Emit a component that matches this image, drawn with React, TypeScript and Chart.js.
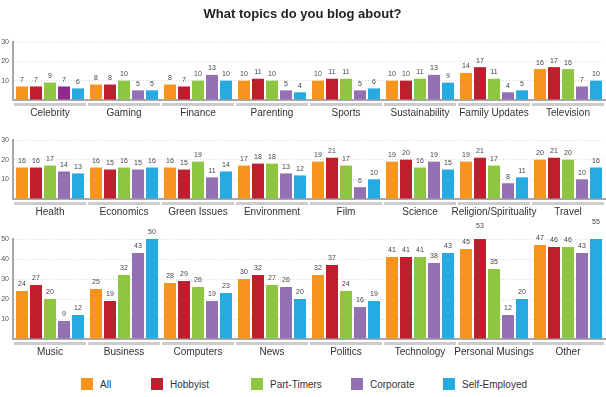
import React, { useEffect, useRef } from "react";
import { Chart, registerables } from "chart.js";

Chart.register(...registerables);

const FONT = "'Liberation Sans', Arial, Helvetica, sans-serif";
Chart.defaults.font.family = FONT;

const chartTitle = "What topics do you blog about?";
const seriesNames = ["All", "Hobbyist", "Part-Timers", "Corporate", "Self-Employed"];
const seriesColors = ["#F7941D", "#BF1E2E", "#8DC63F", "#9471B5", "#25AAE1"];
const highlightColor = "#8E2A8C";

// Row 1
const row1Categories = ["Celebrity", "Gaming", "Finance", "Parenting", "Sports", "Sustainability", "Family Updates", "Television"];
const row1All = [7, 8, 8, 10, 10, 10, 14, 16];
const row1Hobbyist = [7, 8, 7, 11, 11, 10, 17, 17];
const row1PartTimers = [9, 10, 10, 10, 11, 11, 11, 16];
const row1Corporate = [7, 5, 13, 5, 5, 13, 4, 7];
const row1SelfEmployed = [6, 5, 10, 4, 6, 9, 5, 10];

// Row 2
const row2Categories = ["Health", "Economics", "Green Issues", "Environment", "Film", "Science", "Religion/Spirituality", "Travel"];
const row2All = [16, 16, 16, 17, 19, 19, 19, 20];
const row2Hobbyist = [16, 15, 15, 18, 21, 20, 21, 21];
const row2PartTimers = [17, 16, 19, 18, 17, 16, 17, 20];
const row2Corporate = [14, 15, 11, 13, 6, 19, 8, 10];
const row2SelfEmployed = [13, 16, 14, 12, 10, 15, 11, 16];

// Row 3
const row3Categories = ["Music", "Business", "Computers", "News", "Politics", "Technology", "Personal Musings", "Other"];
const row3All = [24, 25, 28, 30, 32, 41, 45, 47];
const row3Hobbyist = [27, 19, 29, 32, 37, 41, 53, 46];
const row3PartTimers = [20, 32, 26, 27, 24, 41, 35, 46];
const row3Corporate = [9, 43, 19, 26, 16, 38, 12, 43];
const row3SelfEmployed = [12, 50, 23, 20, 19, 43, 20, 55];

const row1Max = 30;
const row2Max = 30;
const row3Max = 50;

const underlinePlugin = {
  id: "groupUnderline",
  afterDraw(chart: any) {
    const xs = chart.scales.x;
    const area = chart.chartArea;
    const n = chart.data.labels.length;
    const half = (area.right - area.left) / n / 2 - 1;
    const ctx = chart.ctx;
    ctx.save();
    ctx.fillStyle = "#cccccc";
    for (let i = 0; i < n; i++) {
      const cx = xs.getPixelForValue(i);
      ctx.fillRect(cx - half, area.bottom + 3, half * 2, 3);
    }
    ctx.restore();
  },
};

const valueLabelPlugin = {
  id: "valueLabels",
  afterDatasetsDraw(chart: any) {
    const ctx = chart.ctx;
    ctx.save();
    ctx.font = `7px ${FONT}`;
    ctx.fillStyle = "#444";
    ctx.textAlign = "center";
    ctx.textBaseline = "bottom";
    chart.data.datasets.forEach((ds: any, i: number) => {
      const meta = chart.getDatasetMeta(i);
      meta.data.forEach((bar: any, j: number) => {
        ctx.fillText(String(ds.data[j]), bar.x, bar.y - 3);
      });
    });
    ctx.restore();
  },
};

type RowProps = {
  top: number;
  height: number;
  areaTop: number;
  areaBottom: number;
  labels: string[];
  series: number[][];
  yMax: number;
  title?: string;
  corporateColors?: string[];
};

function BarRow({ top, height, areaTop, areaBottom, labels, series, yMax, title, corporateColors }: RowProps) {
  const ref = useRef<HTMLCanvasElement>(null);
  useEffect(() => {
    const chart = new Chart(ref.current as HTMLCanvasElement, {
      type: "bar",
      data: {
        labels,
        datasets: series.map((d, i) => ({
          label: seriesNames[i],
          data: d,
          backgroundColor: i === 3 && corporateColors ? corporateColors : seriesColors[i],
          borderWidth: 0,
          categoryPercentage: 70 / 74,
          barPercentage: 12 / 14,
        })),
      },
      options: {
        responsive: false,
        animation: false,
        devicePixelRatio: 1,
        layout: { padding: { top: title ? 0 : areaTop, left: 0, right: 1, bottom: 0 } },
        plugins: {
          legend: { display: false },
          tooltip: { enabled: false },
          title: title
            ? {
                display: true,
                text: title,
                color: "#222",
                font: { size: 13, weight: "bold", family: FONT },
                padding: { top: 7, bottom: areaTop - 7 - 15.6 },
              }
            : { display: false },
        },
        scales: {
          x: {
            grid: { display: false, drawTicks: false },
            border: { display: true, color: "#a8a8a8", width: 2 },
            ticks: { color: "#333", font: { size: 10 }, padding: 7, maxRotation: 0, autoSkip: false },
            afterFit: (s: any) => {
              s.height = height - areaBottom;
            },
          },
          y: {
            min: 0,
            max: yMax,
            grid: { color: "#d6d6d6", lineWidth: 1, drawTicks: false },
            border: { display: true, color: "#a8a8a8", width: 2, dash: [1, 2] },
            ticks: {
              stepSize: 10,
              padding: 4,
              color: "#555",
              font: { size: 7 },
              callback: (v: any) => (v === 0 ? "" : String(v)),
            },
            afterFit: (s: any) => {
              s.width = 13;
            },
          },
        },
      } as any,
      plugins: [underlinePlugin, valueLabelPlugin],
    });
    return () => chart.destroy();
  }, []);
  return (
    <canvas
      ref={ref}
      width={606}
      height={height}
      style={{ position: "absolute", left: 0, top, width: 606, height }}
    />
  );
}

const legendLefts = [81, 151, 251, 351, 443];

export default function App() {
  const row1Corp = row1Corporate.map((_, i) => (i === 0 ? highlightColor : seriesColors[3]));
  return (
    <div style={{ position: "absolute", left: 0, top: 0, width: 606, height: 397, background: "#fff", overflow: "hidden" }}>
      <BarRow
        top={0}
        height={122}
        areaTop={42}
        areaBottom={100}
        labels={row1Categories}
        series={[row1All, row1Hobbyist, row1PartTimers, row1Corporate, row1SelfEmployed]}
        yMax={row1Max}
        title={chartTitle}
        corporateColors={row1Corp}
      />
      <BarRow
        top={122}
        height={100}
        areaTop={18}
        areaBottom={77}
        labels={row2Categories}
        series={[row2All, row2Hobbyist, row2PartTimers, row2Corporate, row2SelfEmployed]}
        yMax={row2Max}
      />
      <BarRow
        top={205}
        height={160}
        areaTop={34}
        areaBottom={134}
        labels={row3Categories}
        series={[row3All, row3Hobbyist, row3PartTimers, row3Corporate, row3SelfEmployed]}
        yMax={row3Max}
      />
      {seriesNames.map((name, i) => (
        <div
          key={name}
          style={{
            position: "absolute",
            left: legendLefts[i],
            top: 378,
            height: 12,
            display: "flex",
            alignItems: "center",
            fontFamily: FONT,
            fontSize: 10,
            color: "#333",
            whiteSpace: "nowrap",
          }}
        >
          <span style={{ display: "inline-block", width: 12, height: 12, background: seriesColors[i], marginRight: 7 }} />
          <span>{name}</span>
        </div>
      ))}
    </div>
  );
}
